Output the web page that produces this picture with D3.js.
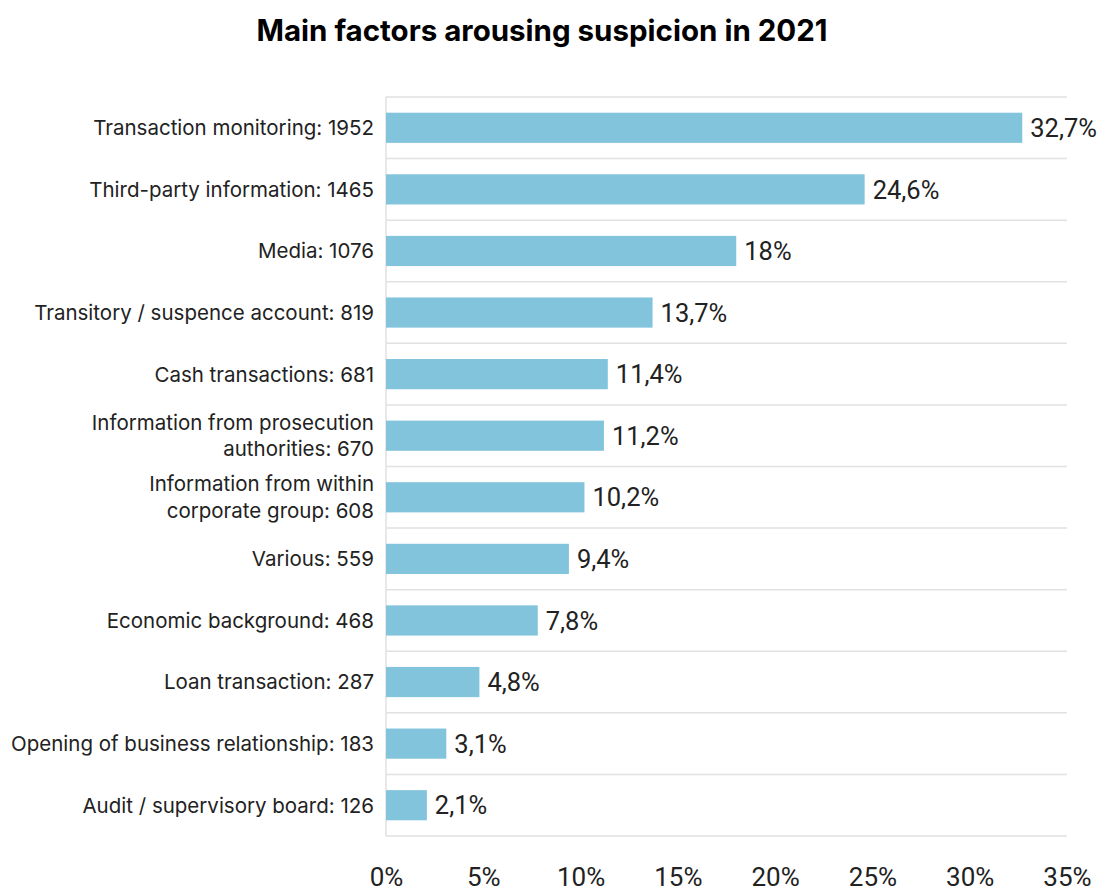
<!DOCTYPE html>
<html>
<head>
<meta charset="utf-8">
<script src="https://cdn.jsdelivr.net/npm/d3@7"></script>
<style>
  body { margin: 0; background: #fff; }
  .cat { font-family: Inter, "Noto Sans", sans-serif; font-size: 20.5px; fill: #222; }
  .val { font-family: Roboto, sans-serif; font-size: 25.5px; fill: #222; }
  .tick text { font-family: Roboto, sans-serif; font-size: 26px; fill: #222; }
  .title { font-family: Inter, sans-serif; font-weight: 700; font-size: 29.5px; fill: #000; }
</style>
</head>
<body>
<svg id="chart"></svg>
<script>
const categories = [
  ["Transaction monitoring: 1952"],
  ["Third-party information: 1465"],
  ["Media: 1076"],
  ["Transitory / suspence account: 819"],
  ["Cash transactions: 681"],
  ["Information from prosecution", "authorities: 670"],
  ["Information from within", "corporate group: 608"],
  ["Various: 559"],
  ["Economic background: 468"],
  ["Loan transaction: 287"],
  ["Opening of business relationship: 183"],
  ["Audit / supervisory board: 126"]
];
const shares = [32.7, 24.6, 18, 13.7, 11.4, 11.2, 10.2, 9.4, 7.8, 4.8, 3.1, 2.1];
const xTicks = [0, 5, 10, 15, 20, 25, 30, 35];

const W = 1101, H = 896;
const margin = { top: 97, right: 34, bottom: 60, left: 386 };
const width = W - margin.left - margin.right;
const height = 836 - margin.top;

const svg = d3.select("#chart").attr("width", W).attr("height", H);

svg.append("text")
  .attr("class", "title")
  .attr("x", 542)
  .attr("y", 41)
  .attr("text-anchor", "middle")
  .text("Main factors arousing suspicion in 2021");

const g = svg.append("g").attr("transform", `translate(${margin.left},${margin.top})`);

const x = d3.scaleLinear().domain([0, 35]).range([0, width]);
const y = d3.scaleBand().domain(d3.range(shares.length)).range([0, height]).paddingInner(0.51).paddingOuter(0.255);

// row separators
const bounds = d3.range(shares.length + 1).map(i => i * height / shares.length);
g.selectAll(".sep")
  .data(bounds)
  .enter().append("line")
  .attr("x1", 0).attr("x2", width)
  .attr("y1", d => d).attr("y2", d => d)
  .attr("stroke", "#e1e1e1").attr("stroke-width", 1.5);

g.append("line")
  .attr("x1", 0).attr("x2", 0).attr("y1", 0).attr("y2", height)
  .attr("stroke", "#e1e1e1").attr("stroke-width", 1.5);

g.selectAll(".bar")
  .data(shares)
  .enter().append("rect")
  .attr("class", "bar")
  .attr("x", 0)
  .attr("y", (d, i) => y(i))
  .attr("width", d => x(d))
  .attr("height", y.bandwidth())
  .attr("fill", "#82c4dc");

g.selectAll(".val")
  .data(shares)
  .enter().append("text")
  .attr("class", "val")
  .attr("x", d => x(d) + 8)
  .attr("y", (d, i) => y(i) + y.bandwidth() / 2)
  .attr("dy", "0.36em")
  .text(d => String(d).replace(".", ",") + "%");

const cats = g.selectAll(".cat")
  .data(categories)
  .enter().append("text")
  .attr("class", "cat")
  .attr("text-anchor", "end")
  .attr("x", -12)
  .attr("y", (d, i) => y(i) + y.bandwidth() / 2);

cats.selectAll("tspan")
  .data(d => d.map((t, k) => ({ t, k, n: d.length })))
  .enter().append("tspan")
  .attr("x", -12)
  .attr("dy", d => d.k === 0 ? (0.36 - (d.n - 1) * 0.65) + "em" : "1.3em")
  .text(d => d.t);

const xAxis = g.append("g")
  .attr("transform", `translate(0,${height})`)
  .call(d3.axisBottom(x).tickValues(xTicks).tickFormat(d => d + "%").tickSize(0).tickPadding(32));
xAxis.select(".domain").remove();
</script>
</body>
</html>
